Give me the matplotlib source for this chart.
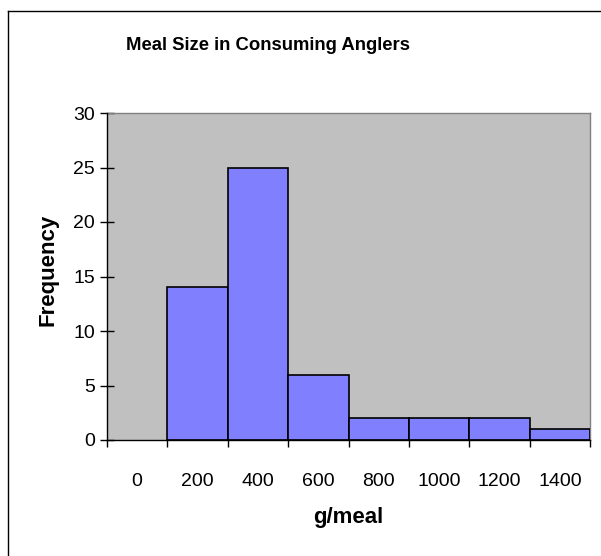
import matplotlib
matplotlib.use("Agg")
import matplotlib.pyplot as plt
from matplotlib.lines import Line2D

# Histogram of meal sizes (g/meal bins) and their counts
bins = ["0", "200", "400", "600", "800", "1000", "1200", "1400"]
counts = [0, 14, 25, 6, 2, 2, 2, 1]
y_ticks = [0, 5, 10, 15, 20, 25, 30]

plt.rcParams["font.family"] = ["Liberation Sans", "DejaVu Sans"]

W, H = 601, 556
fig = plt.figure(figsize=(W / 100, H / 100), dpi=100)

# chart frame: left and top edges
fx, fy = 7.5 / W, (H - 10.5) / H
fig.add_artist(Line2D([fx, fx], [0, fy], transform=fig.transFigure, color="black", linewidth=1.0))
fig.add_artist(Line2D([fx, 1], [fy, fy], transform=fig.transFigure, color="black", linewidth=1.0))

ax = fig.add_axes([107 / W, (H - 440) / H, 483 / W, 327 / H])
ax.set_facecolor("#C0C0C0")

x = list(range(len(bins)))
edge_widths = [1.2 if c > 0 else 0 for c in counts]
ax.bar(x, counts, width=1.0, color="#8080FF", edgecolor="black", linewidth=edge_widths, zorder=3)

ax.set_xlim(-0.5, len(bins) - 0.5)
ax.set_ylim(0, 30)

ax.set_yticks(y_ticks)
ax.set_yticklabels([str(v) for v in y_ticks])
ax.tick_params(axis="y", direction="inout", length=9.5, width=1.0, labelsize=14, pad=4)

ax.set_xticks(x)
ax.set_xticklabels(bins)
ax.set_xticks([i - 0.5 for i in range(len(bins) + 1)], minor=True)
ax.tick_params(axis="x", which="major", length=0, labelsize=14, pad=24)
ax.tick_params(axis="x", which="minor", direction="out", length=5, width=1.0)

for side in ("top", "right"):
    ax.spines[side].set_color("#808080")
    ax.spines[side].set_linewidth(1.0)
for side in ("left", "bottom"):
    ax.spines[side].set_color("black")
    ax.spines[side].set_linewidth(1.0)
    ax.spines[side].set_zorder(4)

ax.set_ylabel("Frequency", fontsize=16, fontweight="bold")
ax.yaxis.set_label_coords(-0.10, 0.52)
ax.set_xlabel("g/meal", fontsize=16, fontweight="bold", labelpad=12)

fig.text(268 / W, (H - 45) / H, "Meal Size in Consuming Anglers",
         ha="center", va="center", fontsize=13.3, fontweight="bold")

fig.savefig("out.png", dpi=100)
